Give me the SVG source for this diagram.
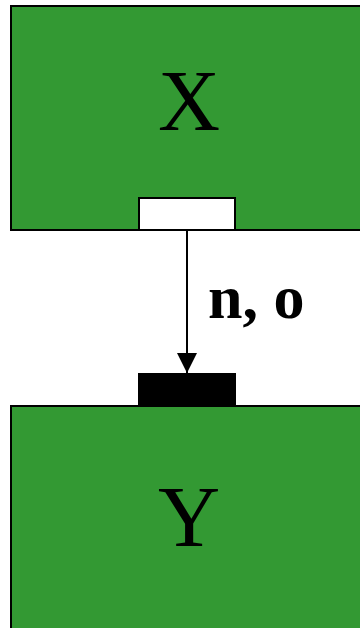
<svg xmlns="http://www.w3.org/2000/svg" width="360" height="628" viewBox="0 0 360 628">
<style>
.node{fill:#339933;stroke:#000;stroke-width:2}
.lbl{font-family:"Liberation Serif",serif;font-size:86px;text-anchor:middle;fill:#000}
.elbl{font-family:"Liberation Serif",serif;font-size:62px;font-weight:bold;fill:#000}
</style>
<defs>
<marker id="arr" markerWidth="20" markerHeight="20" refX="20" refY="10" orient="auto" markerUnits="userSpaceOnUse">
<path d="M0,0 L20,10 L0,20 Z" fill="#000"/>
</marker>
</defs>
<rect width="360" height="628" fill="#fff"/>
<g id="X">
<rect class="node" x="11" y="6" width="360" height="224"/>
<text class="lbl" x="189" y="130">X</text>
<rect x="139" y="198" width="96" height="32" fill="#fff" stroke="#000" stroke-width="2"/>
</g>
<g id="Y">
<rect class="node" x="11" y="406" width="360" height="240"/>
<text class="lbl" x="189" y="546">Y</text>
<rect x="138" y="373" width="98" height="33" fill="#000"/>
</g>
<g id="connectors">
<line x1="187" y1="230" x2="187" y2="373" stroke="#000" stroke-width="2" marker-end="url(#arr)"/>
<text class="elbl" x="208" y="318">n, o</text>
</g>
</svg>
